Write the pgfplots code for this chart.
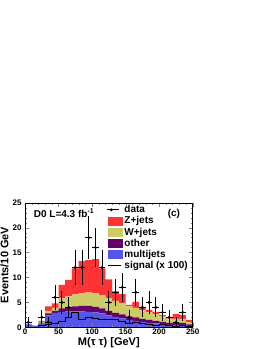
\documentclass[border=0pt]{standalone}
\usepackage{pgfplots}
\pgfplotsset{compat=1.18}
\usepackage{fontspec}
\setmainfont{Liberation Sans}
\definecolor{zred}{RGB}{255,51,51}
\definecolor{wyel}{RGB}{204,204,102}
\definecolor{opurp}{RGB}{102,0,102}
\definecolor{mjblue}{RGB}{85,85,235}
\begin{document}
\begin{tikzpicture}
\path[use as bounding box] (0pt,0pt) rectangle (270pt,349pt);
\pgfplotsset{myax/.style={at={(25pt,21.7pt)}, anchor=south west, scale only axis,
  width=167.7pt, height=124.6pt, xmin=0, xmax=250, ymin=0, ymax=25}}
% stacked backgrounds
\begin{axis}[myax, hide axis, stack plots=y]
\addplot[const plot, fill=mjblue, draw=none] table {
x y
0 0.6
10 0.3
20 0.8
30 2.4
40 2.9
50 3.1
60 3.2
70 3.2
80 3.2
90 3.1
100 3.0
110 2.8
120 2.4
130 2.1
140 1.8
150 1.5
160 1.3
170 1.1
180 0.9
190 0.8
200 0.7
210 0.5
220 0.5
230 0.5
240 0.3
250 0.3
} \closedcycle;
\addplot[const plot, fill=opurp, draw=none] table {
x y
0 0.0
10 0.0
20 0.1
30 0.4
40 0.4
50 0.7
60 0.8
70 1.0
80 1.1
90 1.2
100 1.1
110 1.0
120 0.9
130 0.8
140 0.8
150 0.7
160 0.7
170 0.6
180 0.6
190 0.5
200 0.4
210 0.4
220 0.4
230 0.4
240 0.3
250 0.3
} \closedcycle;
\addplot[const plot, fill=wyel, draw=none] table {
x y
0 0.0
10 0.0
20 0.2
30 0.5
40 0.6
50 2.0
60 2.2
70 2.4
80 2.5
90 2.7
100 2.7
110 2.6
120 2.6
130 2.4
140 2.2
150 2.0
160 1.9
170 1.7
180 1.5
190 1.3
200 1.2
210 0.7
220 0.8
230 0.8
240 0.5
250 0.5
} \closedcycle;
\addplot[const plot, fill=zred, draw=none] table {
x y
0 0.1
10 0.0
20 0.2
30 0.9
40 0.9
50 2.7
60 3.3
70 5.2
80 6.5
90 6.5
100 6.9
110 5.4
120 3.7
130 1.9
140 1.9
150 0.3
160 1.2
170 0.7
180 0.5
190 0.5
200 0.2
210 0.2
220 1.0
230 0.8
240 0.4
250 0.4
} \closedcycle;
\end{axis}
% frame, data, signal, legend
\begin{axis}[myax,
  font=\bfseries,
  xtick={0,50,...,250}, ytick={0,5,...,25},
  minor x tick num=4, minor y tick num=4,
  tick align=inside,
  major tick length=4pt, minor tick length=2pt,
  /pgf/number format/assume math mode=true,
  ticklabel style={font=\bfseries\fontsize{8}{8.5}\selectfont},
  xticklabel style={yshift=2pt},
  xlabel={M(τ τ) [GeV]}, ylabel={Events/10 GeV},
  label style={font=\bfseries\fontsize{11}{12}\selectfont},
  xlabel style={yshift=4pt}, ylabel style={yshift=-3pt},
  legend cell align=left,
  legend style={draw=none, fill=none, at={(0.487,0.995)}, anchor=north west,
    font=\bfseries\fontsize{10}{10.5}\selectfont, row sep=-1.6pt,
    inner sep=0pt},
]
\addplot[only marks, mark=*, mark size=1.3pt, black,
  legend image code/.code={\draw[black, line width=0.8pt] (-1pt,0pt) -- (11pt,0pt); \fill[black] (3pt,0pt) circle (1.3pt);},
  error bars/.cd, x dir=both, x explicit, y dir=both, y explicit,
  error mark=none, error bar style={line width=0.8pt, black},
  ]
  table[x=x, y=y, x error=ex, y error=ey] {
x y ex ey
5 1 5 1
25 2 5 1.41
35 1 5 1
45 6 5 2.45
55 5 5 2.24
65 4 5 2
75 12 5 3.46
85 12 5 3.46
95 18 5 4.24
105 16 5 4
115 12 5 3.46
125 5 5 2.24
135 7 5 2.65
145 8 5 2.83
155 2 5 1.41
165 7 5 2.65
175 4 5 2
185 5 5 2.24
195 4 5 2
205 3 5 1.73
215 2 5 1.41
225 1 5 1
235 3 5 1.73
};
\addlegendentry{data}
\addlegendimage{legend image code/.code={\fill[zred] (0pt,-3.8pt) rectangle (14pt,4.2pt);}}
\addlegendentry{Z+jets}
\addlegendimage{legend image code/.code={\fill[wyel] (0pt,-3.8pt) rectangle (14pt,4.2pt);}}
\addlegendentry{W+jets}
\addlegendimage{legend image code/.code={\fill[opurp] (0pt,-3.8pt) rectangle (14pt,4.2pt);}}
\addlegendentry{other}
\addlegendimage{legend image code/.code={\fill[mjblue] (0pt,-3.8pt) rectangle (14pt,4.2pt);}}
\addlegendentry{multijets}
\addplot[const plot, black, line width=1pt, legend image code/.code={\draw[black, line width=1pt] (0pt,0pt) -- (13pt,0pt);}] table {
x y
0 0
10 0
20 0.3
30 0.6
40 0.8
50 1.2
60 2.0
70 2.9
80 1.6
90 2.0
100 1.8
110 1.6
120 1.5
130 1.5
140 1.2
150 0.8
160 1.0
170 0.8
180 0.5
190 0.4
200 0.5
210 0.3
220 0.2
230 0.3
240 0.1
250 0.1
};
\addlegendentry{signal (x 100)}
\node[anchor=west, font=\bfseries\fontsize{10}{10.5}\selectfont] at (axis cs:8,22.9) {D0 L=4.3 fb\textsuperscript{-1}};
\node[font=\bfseries\fontsize{10}{10.5}\selectfont] at (axis cs:222,22.7) {(c)};
\end{axis}
\end{tikzpicture}
\end{document}
